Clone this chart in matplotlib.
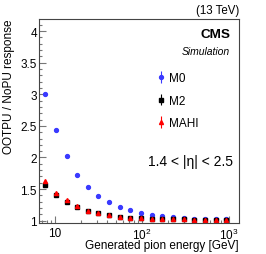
import matplotlib
matplotlib.use("Agg")
from matplotlib import pyplot as plt
from matplotlib.ticker import FixedLocator, MultipleLocator, LogLocator, NullFormatter

# generated pion energy bins [GeV]
energy = [7.7, 10.2, 13.6, 18.0, 23.9, 31.6, 41.9, 55.6, 73.6, 97.7,
          129, 171, 228, 301, 400, 530, 702, 930]
# OOTPU / NoPU response
resp_m0 = [3.00, 2.44, 2.03, 1.73, 1.54, 1.39, 1.295, 1.216, 1.17, 1.12,
           1.095, 1.074, 1.054, 1.043, 1.035, 1.03, 1.025, 1.022]
resp_m2 = [1.56, 1.405, 1.29, 1.22, 1.155, 1.117, 1.093, 1.063, 1.047, 1.04,
           1.035, 1.03, 1.025, 1.02, 1.018, 1.015, 1.012, 1.01]
resp_mahi = [1.63, 1.44, 1.32, 1.23, 1.16, 1.12, 1.095, 1.065, 1.048, 1.04,
             1.035, 1.03, 1.025, 1.02, 1.018, 1.015, 1.012, 1.01]
err = [0.01] * len(energy)

plt.rcParams.update({
    "font.family": ["Liberation Sans", "DejaVu Sans"],
    "mathtext.fontset": "custom",
    "mathtext.rm": "Liberation Sans",
    "mathtext.it": "Liberation Sans:italic",
})

fig = plt.figure(figsize=(2.66, 2.55), dpi=100)
ax = fig.add_axes([0.1466, 0.1216, 0.752, 0.80])

ax.errorbar(energy, resp_m0, yerr=err, fmt="o", color="#3a3aff", ms=2.8,
            elinewidth=0.8, capsize=0, label="M0")
ax.errorbar(energy, resp_m2, yerr=err, fmt="s", color="black", ms=2.8,
            elinewidth=0.8, capsize=0, label="M2")
ax.errorbar(energy, resp_mahi, yerr=err, fmt="^", color="red", ms=2.9,
            elinewidth=0.8, capsize=0, label="MAHI")

ax.set_xscale("log")
ax.set_xlim(6.55, 1300)
ax.set_ylim(0.964, 4.19)

ax.xaxis.set_major_locator(FixedLocator([10, 100, 1000]))
ax.set_xticklabels(["10", "$10^{2}$", "$10^{3}$"])
ax.xaxis.set_minor_locator(LogLocator(base=10, subs=range(2, 10)))
ax.xaxis.set_minor_formatter(NullFormatter())
ax.set_yticks([1, 1.5, 2, 2.5, 3, 3.5, 4])
ax.set_yticklabels(["1", "1.5", "2", "2.5", "3", "3.5", "4"])
ax.yaxis.set_minor_locator(MultipleLocator(0.1))

ax.tick_params(which="both", direction="in", colors="#777777",
               labelcolor="black", labelsize=8.5, width=0.8)
ax.tick_params(which="major", length=5)
ax.tick_params(which="minor", length=2.5)
ax.tick_params(axis="x", pad=3)
ax.tick_params(axis="y", pad=1.5)
for s in ax.spines.values():
    s.set_color("#444444")
    s.set_linewidth(0.8)

ax.set_ylabel("OOTPU / NoPU response", fontsize=8.5, loc="top", labelpad=4)
ax.set_xlabel("Generated pion energy [GeV]", fontsize=8.5, loc="right", labelpad=-2.5)

ax.text(1.0, 1.015, "(13 TeV)", transform=ax.transAxes, ha="right", va="bottom",
        fontsize=8.3)
ax.text(0.955, 0.925, "CMS", transform=ax.transAxes, ha="right", va="center",
        fontsize=9.7, fontweight="bold")
ax.text(0.955, 0.845, "Simulation", transform=ax.transAxes, ha="right", va="center",
        fontsize=7.5, style="italic")
ax.text(0.755, 0.305, "1.4 < |η| < 2.5", transform=ax.transAxes, ha="center",
        va="center", fontsize=10)

ax.legend(loc="upper left", bbox_to_anchor=(0.59, 0.74), frameon=False,
          fontsize=8.5, handlelength=0.6, handletextpad=0.4, labelspacing=0.9,
          borderaxespad=0, borderpad=0)

fig.savefig("out.png", dpi=100)
